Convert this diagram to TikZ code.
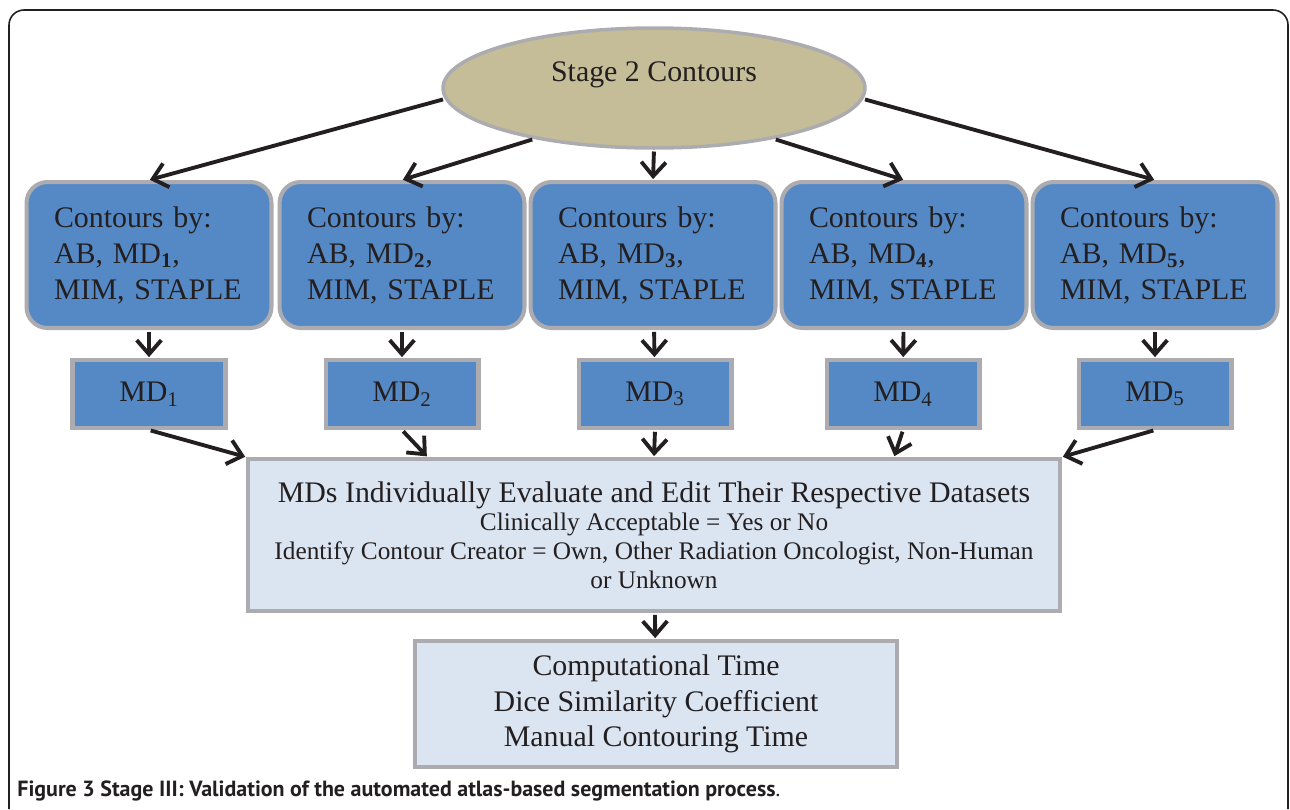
\documentclass[tikz,border=0pt]{standalone}
\usepackage{fontspec}
\setmainfont{Liberation Serif}
\newfontfamily\capfont{PT Sans}
\usepackage{tikz}
\usetikzlibrary{shapes.geometric, arrows.meta, positioning, calc}

\definecolor{mdblue}{RGB}{85,137,198}
\definecolor{edgegray}{RGB}{172,172,176}
\definecolor{stagetan}{RGB}{196,189,151}
\definecolor{paleblue}{RGB}{219,229,241}
\definecolor{ink}{RGB}{35,31,32}

\begin{document}
\begin{tikzpicture}[
    x=0.02cm, y=-0.02cm,
    stagenode/.style={ellipse, draw=edgegray, line width=2pt, fill=stagetan, minimum width=8.44cm, minimum height=2.4cm},
    contour/.style={rectangle, rounded corners=0.42cm, draw=edgegray, line width=2.3pt, fill=mdblue, minimum width=4.9cm, minimum height=2.92cm, text width=3.8cm, align=left, font=\fontsize{17}{20.5}\selectfont, text=ink},
    mdbox/.style={rectangle, draw=edgegray, line width=2.3pt, fill=mdblue, minimum width=3.06cm, minimum height=1.36cm, font=\fontsize{17}{20}\selectfont, text=ink},
    evalbox/.style={rectangle, draw=edgegray, line width=2.3pt, fill=paleblue, minimum width=16.24cm, minimum height=3.04cm, align=center, font=\fontsize{14.4}{16.3}\selectfont, text=ink},
    resultbox/.style={rectangle, draw=edgegray, line width=2.3pt, fill=paleblue, minimum width=9.64cm, minimum height=2.52cm, align=center, font=\fontsize{17}{20.2}\selectfont, text=ink},
    flow/.style={draw=ink, line width=2.2pt, -{Straight Barb[length=8pt, width=14pt]}, shorten >=0.5pt, shorten <=1pt},
  ]
    \useasboundingbox (0,0) rectangle (1290,809);

    % figure frame
    \draw[ink, line width=0.9pt, rounded corners=0.3cm] (9,809) -- (9,10) -- (1288,10) -- (1288,809);

    % Stage 2
    \node[stagenode, label={[font=\fontsize{17}{20}\selectfont, text=ink, yshift=0.27cm]center:Stage 2 Contours}] (stage) at (654,88) {};

    % Contour sets
    \node[contour] (box1) at (149,255) {Contours by:\\AB, MD\textsubscript{\textbf{1}},\\MIM, STAPLE};
    \node[contour] (box2) at (402,255) {Contours by:\\AB, MD\textsubscript{\textbf{2}},\\MIM, STAPLE};
    \node[contour] (box3) at (653,255) {Contours by:\\AB, MD\textsubscript{\textbf{3}},\\MIM, STAPLE};
    \node[contour] (box4) at (904,255) {Contours by:\\AB, MD\textsubscript{\textbf{4}},\\MIM, STAPLE};
    \node[contour] (box5) at (1155,255) {Contours by:\\AB, MD\textsubscript{\textbf{5}},\\MIM, STAPLE};

    % MDs
    \node[mdbox] (md1) at (149,394) {MD\textsubscript{1}};
    \node[mdbox] (md2) at (402,394) {MD\textsubscript{2}};
    \node[mdbox] (md3) at (655,394) {MD\textsubscript{3}};
    \node[mdbox] (md4) at (903,394) {MD\textsubscript{4}};
    \node[mdbox] (md5) at (1155,394) {MD\textsubscript{5}};

    % Evaluation
    \node[evalbox] (eval) at (654,535) {{\fontsize{17}{17}\selectfont MDs Individually Evaluate and Edit Their Respective Datasets}\\
      Clinically Acceptable = Yes or No\\
      Identify Contour Creator = Own, Other Radiation Oncologist, Non-Human\\
      or Unknown};

    % Results
    \node[resultbox] (result) at (656,704) {Computational Time\\Dice Similarity Coefficient\\Manual Contouring Time};

    % caption
    \node[anchor=west, inner sep=0pt, font=\capfont\fontsize{12.5}{14}\selectfont, text=ink] (caption) at (17,791) {\textbf{Figure 3 Stage III: Validation of the automated atlas-based segmentation process}.};

    % Arrows
    \draw[flow] (stage.183) -- (box1.north);
    \draw[flow] (stage.203) -- (box2.north);
    \draw[flow] (stage.south) -- (box3.north);
    \draw[flow] (stage.337) -- (box4.north);
    \draw[flow] (stage.357) -- (box5.north);

    \draw[flow] (box1) -- (md1);
    \draw[flow] (box2) -- (md2);
    \draw[flow] (box3) -- (md3);
    \draw[flow] (box4) -- (md4);
    \draw[flow] (box5) -- (md5);

    \draw[flow] (md1.south) -- (eval.north west);
    \draw[flow] (md2.south) -- (eval.161.5);
    \draw[flow] (md3.south) -- (eval.north);
    \draw[flow] (md4.south) -- (eval.18.3);
    \draw[flow] (md5.south) -- (eval.north east);

    \draw[flow] (eval) -- (result);

  \end{tikzpicture}
\end{document}
